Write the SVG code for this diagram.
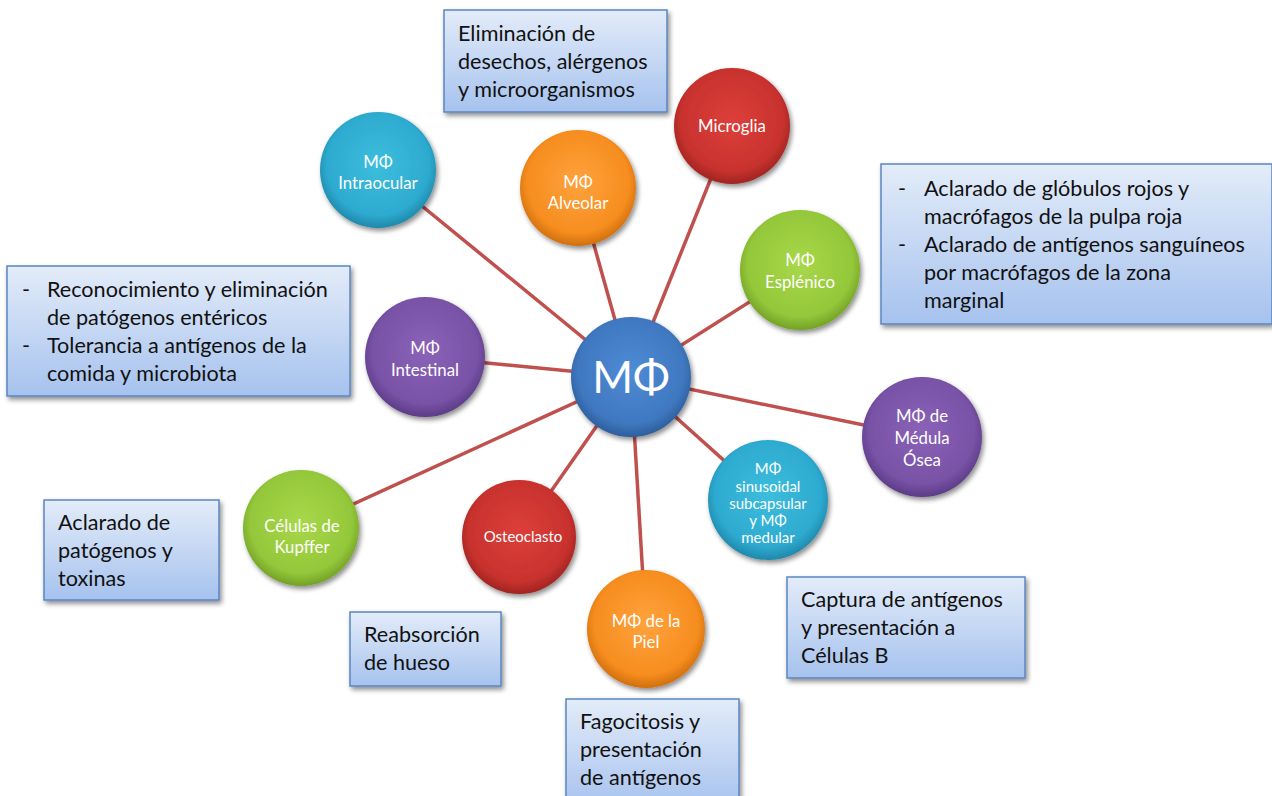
<svg xmlns="http://www.w3.org/2000/svg" width="1272" height="796" viewBox="0 0 1272 796">
<defs>
<linearGradient id="boxg" x1="0" y1="0" x2="0" y2="1">
<stop offset="0" stop-color="#e3ecf9"/>
<stop offset="1" stop-color="#a6c2ee"/>
</linearGradient>
<radialGradient id="gBlue" cx="0.5" cy="0.45" r="0.55"><stop offset="0" stop-color="#4f8bd6"/><stop offset="0.8" stop-color="#3f78c0"/><stop offset="1" stop-color="#2d5e9c"/></radialGradient>
<radialGradient id="gTeal" cx="0.5" cy="0.45" r="0.55"><stop offset="0" stop-color="#3cbedd"/><stop offset="0.8" stop-color="#2eaad0"/><stop offset="1" stop-color="#1f88aa"/></radialGradient>
<radialGradient id="gOrange" cx="0.5" cy="0.45" r="0.55"><stop offset="0" stop-color="#ffa23d"/><stop offset="0.8" stop-color="#f68d1f"/><stop offset="1" stop-color="#d06f0e"/></radialGradient>
<radialGradient id="gRed" cx="0.5" cy="0.45" r="0.55"><stop offset="0" stop-color="#dd3f3a"/><stop offset="0.8" stop-color="#c8322e"/><stop offset="1" stop-color="#a02422"/></radialGradient>
<radialGradient id="gGreen" cx="0.5" cy="0.45" r="0.55"><stop offset="0" stop-color="#a8d84a"/><stop offset="0.8" stop-color="#94c73a"/><stop offset="1" stop-color="#73a126"/></radialGradient>
<radialGradient id="gPurple" cx="0.5" cy="0.45" r="0.55"><stop offset="0" stop-color="#8a63b8"/><stop offset="0.8" stop-color="#7852a6"/><stop offset="1" stop-color="#5c3c86"/></radialGradient>
<filter id="sh" x="-20%" y="-20%" width="150%" height="150%">
<feGaussianBlur in="SourceAlpha" stdDeviation="2.5"/>
<feOffset dx="2" dy="3" result="b"/>
<feComponentTransfer><feFuncA type="linear" slope="0.45"/></feComponentTransfer>
<feMerge><feMergeNode/><feMergeNode in="SourceGraphic"/></feMerge>
</filter>
</defs>
<style>
.box{fill:url(#boxg);stroke:#5a86c2;stroke-width:1.5;filter:url(#sh)}
.bt{font-family:Lato,"Open Sans","Liberation Sans",sans-serif;font-size:21.6px;fill:#111}
.ct{font-family:Lato,"Open Sans","Liberation Sans",sans-serif;font-size:16.8px;fill:#fff;text-anchor:middle}
.cs{font-size:15px}
.conn line{stroke:#c0504d;stroke-width:3.5}
circle{filter:url(#sh)}
</style>
<rect width="1272" height="796" fill="#fff"/>
<g id="connectors" class="conn">
<line x1="631" y1="377" x2="378" y2="170"/>
<line x1="631" y1="377" x2="578" y2="188"/>
<line x1="631" y1="377" x2="732" y2="126"/>
<line x1="631" y1="377" x2="800" y2="270"/>
<line x1="631" y1="377" x2="425" y2="357"/>
<line x1="631" y1="377" x2="922" y2="437"/>
<line x1="631" y1="377" x2="768" y2="500"/>
<line x1="631" y1="377" x2="301" y2="528"/>
<line x1="631" y1="377" x2="519" y2="537"/>
<line x1="631" y1="377" x2="646" y2="629"/>
</g>
<g id="n-intraocular"><circle cx="378" cy="170" r="58" fill="url(#gTeal)"/><text class="ct" x="378" y="168">MΦ</text><text class="ct" x="378" y="189">Intraocular</text></g>
<g id="n-alveolar"><circle cx="578" cy="188" r="58" fill="url(#gOrange)"/><text class="ct" x="578" y="188">MΦ</text><text class="ct" x="578" y="209">Alveolar</text></g>
<g id="n-microglia"><circle cx="732" cy="126" r="58" fill="url(#gRed)"/><text class="ct" x="732" y="132">Microglia</text></g>
<g id="n-esplenico"><circle cx="800" cy="270" r="60" fill="url(#gGreen)"/><text class="ct" x="800" y="266">MΦ</text><text class="ct" x="800" y="288">Esplénico</text></g>
<g id="n-intestinal"><circle cx="425" cy="357" r="60" fill="url(#gPurple)"/><text class="ct" x="425" y="354">MΦ</text><text class="ct" x="425" y="376">Intestinal</text></g>
<g id="n-medula"><circle cx="922" cy="437" r="60" fill="url(#gPurple)"/><text class="ct" x="922" y="422">MΦ de</text><text class="ct" x="922" y="444">Médula</text><text class="ct" x="922" y="466">Ósea</text></g>
<g id="n-sinusoidal"><circle cx="768" cy="500" r="60" fill="url(#gTeal)"/><text class="ct cs" x="768" y="474">MΦ</text><text class="ct cs" x="768" y="492">sinusoidal</text><text class="ct cs" x="768" y="509">subcapsular</text><text class="ct cs" x="768" y="526">y MΦ</text><text class="ct cs" x="768" y="543">medular</text></g>
<g id="n-kupffer"><circle cx="301" cy="528" r="58" fill="url(#gGreen)"/><text class="ct" x="302" y="532">Células de</text><text class="ct" x="302" y="553">Kupffer</text></g>
<g id="n-osteoclasto"><circle cx="519" cy="537" r="57" fill="url(#gRed)"/><text class="ct cs" x="523" y="542">Osteoclasto</text></g>
<g id="n-piel"><circle cx="646" cy="629" r="59" fill="url(#gOrange)"/><text class="ct" x="646" y="627">MΦ de la</text><text class="ct" x="646" y="648">Piel</text></g>
<g id="n-center"><circle cx="631" cy="377" r="60" fill="url(#gBlue)"/><text class="ct" x="631" y="393" style="font-size:44px">MΦ</text></g>
<g id="b-microglia"><rect class="box" x="444" y="10" width="223" height="102"/><text class="bt" x="458" y="41">Eliminación de</text><text class="bt" x="458" y="69">desechos, alérgenos</text><text class="bt" x="458" y="97">y microorganismos</text></g>
<g id="b-esplenico"><rect class="box" x="881" y="164" width="391" height="160"/><text class="bt" x="898" y="196">-</text><text class="bt" x="924" y="196">Aclarado de glóbulos rojos y</text><text class="bt" x="924" y="224">macrófagos de la pulpa roja</text><text class="bt" x="898" y="252">-</text><text class="bt" x="924" y="252">Aclarado de antígenos sanguíneos</text><text class="bt" x="924" y="280">por macrófagos de la zona</text><text class="bt" x="924" y="308">marginal</text></g>
<g id="b-intestinal"><rect class="box" x="7" y="266" width="343" height="130"/><text class="bt" x="22" y="297">-</text><text class="bt" x="47" y="297">Reconocimiento y eliminación</text><text class="bt" x="47" y="325">de patógenos entéricos</text><text class="bt" x="22" y="353">-</text><text class="bt" x="47" y="353">Tolerancia a antígenos de la</text><text class="bt" x="47" y="381">comida y microbiota</text></g>
<g id="b-kupffer"><rect class="box" x="44" y="500" width="175" height="100"/><text class="bt" x="58" y="530">Aclarado de</text><text class="bt" x="58" y="558">patógenos y</text><text class="bt" x="58" y="586">toxinas</text></g>
<g id="b-osteoclasto"><rect class="box" x="350" y="612" width="151" height="74"/><text class="bt" x="364" y="642">Reabsorción</text><text class="bt" x="364" y="670">de hueso</text></g>
<g id="b-piel"><rect class="box" x="566" y="699" width="173" height="110"/><text class="bt" x="580" y="729">Fagocitosis y</text><text class="bt" x="580" y="757">presentación</text><text class="bt" x="580" y="785">de antígenos</text></g>
<g id="b-sinusoidal"><rect class="box" x="787" y="577" width="238" height="101"/><text class="bt" x="801" y="607">Captura de antígenos</text><text class="bt" x="801" y="635">y presentación a</text><text class="bt" x="801" y="663">Células B</text></g>
</svg>
